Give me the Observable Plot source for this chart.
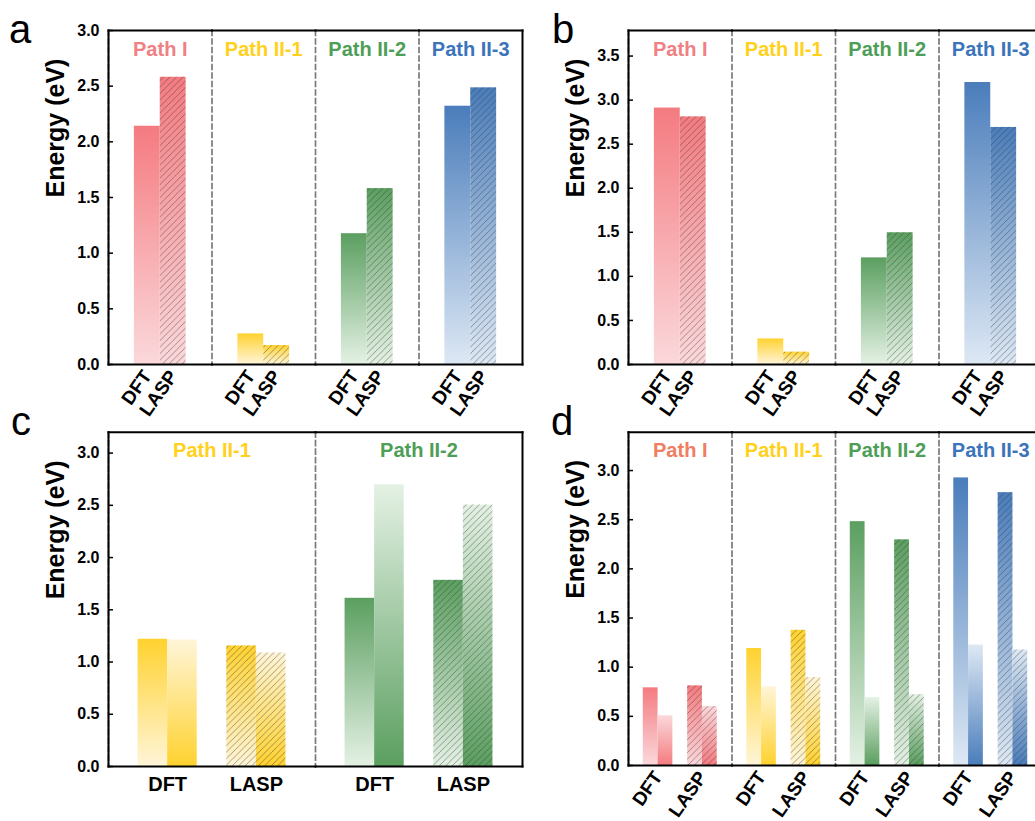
<!DOCTYPE html>
<html><head><meta charset="utf-8">
<script src="https://cdn.jsdelivr.net/npm/d3@7"></script>
<script src="https://cdn.jsdelivr.net/npm/@observablehq/plot@0.6"></script>
<style>
body{margin:0;width:1035px;height:821px;overflow:hidden;position:relative;background:#fff;font-family:"Liberation Sans",Arial,sans-serif}
.panel{position:absolute}
.panel svg{max-width:none}
.letter{position:absolute;font-size:40px;line-height:40px;font-family:"Liberation Sans",Arial,sans-serif;color:#000}
</style></head><body>
<div id="pa" class="panel" style="left:0;top:0;width:525px"></div>
<div id="pb" class="panel" style="left:520px;top:0;width:525px"></div>
<div id="pc" class="panel" style="left:0;top:400px;width:525px"></div>
<div id="pd" class="panel" style="left:520px;top:400px;width:525px"></div>
<div class="letter" style="left:9px;top:9px">a</div>
<div class="letter" style="left:552px;top:9px">b</div>
<div class="letter" style="left:11px;top:401px">c</div>
<div class="letter" style="left:551px;top:401px">d</div>
<script>
// ---------- data ----------
const pathsAll = ["Path I", "Path II-1", "Path II-2", "Path II-3"];
const pathsC = ["Path II-1", "Path II-2"];
const methods = ["DFT", "LASP"];

// panel a
const aDFT  = [2.14, 0.275, 1.175, 2.32];
const aLASP = [2.58, 0.17, 1.58, 2.485];
// panel b
const bDFT  = [2.91, 0.29, 1.21, 3.20];
const bLASP = [2.81, 0.14, 1.495, 2.69];
// panel c (two bars per method)
const cDFT1  = [1.218, 1.61];
const cDFT2  = [1.211, 2.697];
const cLASP1 = [1.154, 1.782];
const cLASP2 = [1.087, 2.503];
// panel d
const dDFT1  = [0.79, 1.19, 2.48, 2.925];
const dDFT2  = [0.505, 0.80, 0.69, 1.225];
const dLASP1 = [0.81, 1.375, 2.295, 2.775];
const dLASP2 = [0.60, 0.895, 0.72, 1.175];

// y ticks
const ticks30 = [0, 0.5, 1.0, 1.5, 2.0, 2.5, 3.0];
const ticks35 = [0, 0.5, 1.0, 1.5, 2.0, 2.5, 3.0, 3.5];

// ---------- styles ----------
const FONT = "'Liberation Sans', Arial, Helvetica, sans-serif";
const pathColorKey = {"Path I": "red", "Path II-1": "yellow", "Path II-2": "green", "Path II-3": "blue"};
const palette = {
  red:    {full: "#F47B80", light: "#FBD8DB"},
  yellow: {full: "#FFD22F", light: "#FFF5D8"},
  green:  {full: "#5B9F60", light: "#E4F1E4"},
  blue:   {full: "#4A7DBB", light: "#DDE8F4"}
};
const titleColorsAB = {"Path I": "#F08084", "Path II-1": "#FFD11C", "Path II-2": "#4E9E57", "Path II-3": "#3B74BB"};
const titleColorsD  = {"Path I": "#EF7E62", "Path II-1": "#FFD11C", "Path II-2": "#4E9E57", "Path II-3": "#3B74BB"};

// ---------- shared defs (gradients + hatch) ----------
const defsSvg = d3.select("body").append("svg")
  .attr("width", 0).attr("height", 0)
  .style("position", "absolute").style("left", 0).style("top", 0);
const defs = defsSvg.append("defs");
for (const [k, c] of Object.entries(palette)) {
  for (const dir of ["down", "up"]) {
    const g = defs.append("linearGradient").attr("id", `g-${k}-${dir}`)
      .attr("x1", 0).attr("y1", 0).attr("x2", 0).attr("y2", 1);
    g.append("stop").attr("offset", "0%").attr("stop-color", dir === "down" ? c.full : c.light);
    g.append("stop").attr("offset", "100%").attr("stop-color", dir === "down" ? c.light : c.full);
  }
}
const pat = defs.append("pattern").attr("id", "hatch")
  .attr("patternUnits", "userSpaceOnUse").attr("width", 6.5).attr("height", 6.5);
pat.append("path").attr("d", "M-1,1 l2,-2 M0,6.5 l6.5,-6.5 M5.5,7.5 l2,-2")
  .attr("stroke", "#333").attr("stroke-width", 0.75).attr("stroke-opacity", 0.6);

// ---------- rows ----------
function rowsPair(groups, dft, lasp) {
  return groups.flatMap((g, i) => [
    {path: g, method: "DFT", sub: "1", value: dft[i]},
    {path: g, method: "LASP", sub: "1", value: lasp[i]}
  ]);
}
function rowsQuad(groups, dft1, dft2, lasp1, lasp2) {
  return groups.flatMap((g, i) => [
    {path: g, method: "DFT", sub: "1", value: dft1[i]},
    {path: g, method: "DFT", sub: "2", value: dft2[i]},
    {path: g, method: "LASP", sub: "1", value: lasp1[i]},
    {path: g, method: "LASP", sub: "2", value: lasp2[i]}
  ]);
}
const fillOf = d => `url(#g-${pathColorKey[d.path]}-${d.sub === "2" ? "up" : "down"})`;

function makePlot(cfg, bw) {
  const {groups, rows, paired, yMax, yTicks, width, height, mL, mT, mR, mB, rotate, titleColors, xFont} = cfg;
  const barMarks = [];
  if (!paired) {
    barMarks.push(Plot.barY(rows, {fx: "path", x: "method", y: "value", fill: fillOf}));
    barMarks.push(Plot.barY(rows.filter(d => d.method === "LASP"), {fx: "path", x: "method", y: "value", fill: "url(#hatch)"}));
  } else {
    const h = (bw || 0) / 2;
    for (const sub of ["1", "2"]) {
      const ins = sub === "1" ? {insetRight: h} : {insetLeft: h};
      barMarks.push(Plot.barY(rows.filter(d => d.sub === sub), {fx: "path", x: "method", y: "value", fill: fillOf, ...ins}));
      barMarks.push(Plot.barY(rows.filter(d => d.sub === sub && d.method === "LASP"), {fx: "path", x: "method", y: "value", fill: "url(#hatch)", ...ins}));
    }
  }
  return Plot.plot({
    width, height,
    marginLeft: mL, marginTop: mT, marginRight: mR, marginBottom: mB,
    style: {fontFamily: FONT, background: "transparent", overflow: "visible", color: "#000"},
    fx: {domain: groups, padding: 0, axis: null, round: false},
    x: {domain: methods, paddingInner: paired ? 1/3 : 0, paddingOuter: paired ? 1/3 : 1, round: false},
    y: {domain: [0, yMax]},
    color: {type: "identity"},
    marks: [
      ...barMarks,
      Plot.frame({anchor: "left", stroke: "#7a7a7a", strokeDasharray: "5,3.5", strokeWidth: 1.7}),
      Plot.frame({anchor: "top", stroke: "#000", strokeWidth: 2}),
      Plot.frame({anchor: "bottom", stroke: "#000", strokeWidth: 2}),
      Plot.frame({anchor: "left", facetAnchor: "left", stroke: "#000", strokeWidth: 2}),
      Plot.frame({anchor: "right", facetAnchor: "right", stroke: "#000", strokeWidth: 2}),
      Plot.text(groups, {fx: d => d, text: d => d, frameAnchor: "top", dy: 25, lineAnchor: "bottom",
        fill: d => titleColors[d], fontSize: 20, fontWeight: "bold"}),
      Plot.text([groups[0]], {fx: d => d, text: () => "Energy (eV)", frameAnchor: "left", dx: -45,
        rotate: -90, lineAnchor: "bottom", fontSize: 25, fontWeight: "bold", fill: "#000"}),
      Plot.axisY(yTicks, {tickFormat: d3.format(".1f"), tickSize: 5, insetLeft: 5, tickPadding: 9,
        fontSize: 16, fontWeight: "bold", label: null, strokeWidth: 1.5}),
      rotate
        ? Plot.axisX({tickSize: 0, tickPadding: 8, tickRotate: rotate, fontSize: xFont, fontWeight: "bold", label: null})
        : Plot.axisX({tickSize: 0, tickPadding: 10, fontSize: xFont, fontWeight: "bold", label: null})
    ]
  });
}

function drawPanel(id, cfg) {
  let bw = 0;
  if (cfg.paired) {
    const probe = makePlot(cfg, 0);
    bw = probe.scale("x").bandwidth;
  }
  document.getElementById(id).appendChild(makePlot(cfg, bw));
}

drawPanel("pa", {groups: pathsAll, rows: rowsPair(pathsAll, aDFT, aLASP), paired: false,
  yMax: 3.0, yTicks: ticks30, width: 525, height: 410, mL: 108, mT: 30, mR: 3, mB: 46,
  rotate: -55, titleColors: titleColorsAB, xFont: 19});
drawPanel("pb", {groups: pathsAll, rows: rowsPair(pathsAll, bDFT, bLASP), paired: false,
  yMax: 3.79, yTicks: ticks35, width: 525, height: 410, mL: 108, mT: 30, mR: 3, mB: 46,
  rotate: -55, titleColors: titleColorsAB, xFont: 19});
drawPanel("pc", {groups: pathsC, rows: rowsQuad(pathsC, cDFT1, cDFT2, cLASP1, cLASP2), paired: true,
  yMax: 3.2, yTicks: ticks30, width: 525, height: 421, mL: 108, mT: 31.7, mR: 3, mB: 55,
  rotate: 0, titleColors: titleColorsAB, xFont: 20});
drawPanel("pd", {groups: pathsAll, rows: rowsQuad(pathsAll, dDFT1, dDFT2, dLASP1, dLASP2), paired: true,
  yMax: 3.39, yTicks: ticks30, width: 525, height: 421, mL: 108, mT: 31.7, mR: 3, mB: 56,
  rotate: -55, titleColors: titleColorsD, xFont: 19});
</script>
</body></html>
